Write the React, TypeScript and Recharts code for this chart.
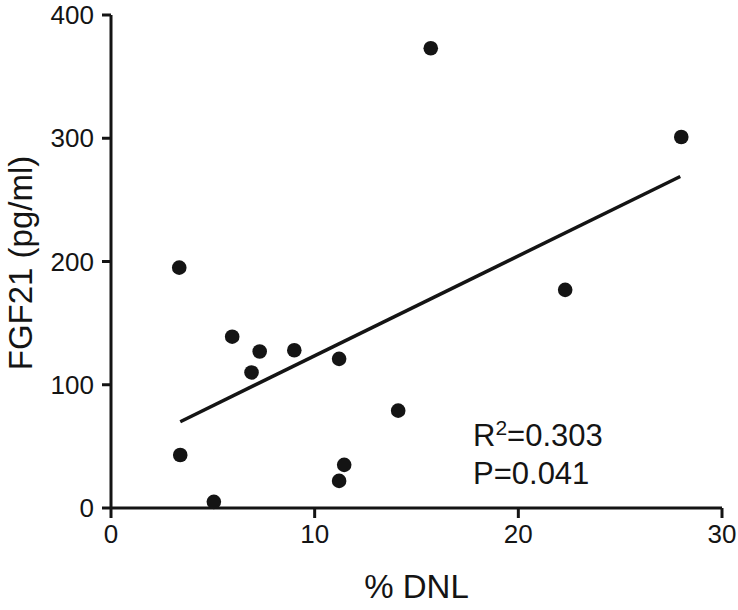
import { ReferenceLine, Scatter, ScatterChart, XAxis, YAxis } from "recharts";

const dnl = [15.7, 28.0, 3.35, 22.3, 5.95, 7.3, 9.0, 11.2, 6.9, 14.1, 3.4, 11.45, 11.2, 5.05];
const fgf21 = [373, 301, 195, 177, 139, 127, 128, 121, 110, 79, 43, 35, 22, 5];

const fitX = [3.4, 27.95];
const fitY = [70, 269];

const xTicks = [0, 10, 20, 30];
const yTicks = [0, 100, 200, 300, 400];

const INK = "#141414";
const FONT = "'Liberation Sans', Arial, Helvetica, sans-serif";

const points = dnl.map((x, i) => ({ x, y: fgf21[i] }));
const fit = fitX.map((x, i) => ({ x, y: fitY[i] }));

const Dot = (p: any) => <circle cx={p.cx} cy={p.cy} r={7.3} fill={INK} />;

const YTitle = () => (
  <text
    x={32}
    y={263}
    transform="rotate(-90, 32, 263)"
    textAnchor="middle"
    fontSize={33}
    fill={INK}
    fontFamily={FONT}
  >
    FGF21 (pg/ml)
  </text>
);

export default function App() {
  const tick = { fontSize: 26, fill: INK, fontFamily: FONT };
  return (
    <div style={{ position: "absolute", left: 0, top: 0, width: 738, height: 610, background: "#fff" }}>
      <ScatterChart width={738} height={610} margin={{ top: 15, right: 16, left: 0, bottom: 0 }}>
        <XAxis
          type="number"
          dataKey="x"
          domain={[0, 30]}
          ticks={xTicks}
          height={102}
          tickSize={10}
          tickMargin={7}
          tick={tick}
          axisLine={{ stroke: INK, strokeWidth: 3 }}
          tickLine={{ stroke: INK, strokeWidth: 3 }}
          label={{
            value: "% DNL",
            position: "insideBottom",
            offset: 12,
            fontSize: 33,
            fill: INK,
            fontFamily: FONT,
          }}
        />
        <YAxis
          type="number"
          dataKey="y"
          domain={[0, 400]}
          ticks={yTicks}
          width={111}
          tickSize={9}
          tickMargin={8}
          tick={tick}
          axisLine={{ stroke: INK, strokeWidth: 3 }}
          tickLine={{ stroke: INK, strokeWidth: 3 }}
          label={{ content: () => <YTitle /> }}
        />
        <ReferenceLine segment={fit} stroke={INK} strokeWidth={3.5} ifOverflow="visible" />
        <Scatter data={points} shape={Dot} isAnimationActive={false} />
      </ScatterChart>
      <svg
        width={738}
        height={610}
        style={{ position: "absolute", left: 0, top: 0, pointerEvents: "none" }}
      >
        <text x={473} y={446} fontSize={31} fill={INK} fontFamily={FONT}>
          R
          <tspan dy={-11} fontSize={21}>
            2
          </tspan>
          <tspan dy={11}>=0.303</tspan>
        </text>
        <text x={473} y={484} fontSize={31} fill={INK} fontFamily={FONT}>
          P=0.041
        </text>
      </svg>
    </div>
  );
}
